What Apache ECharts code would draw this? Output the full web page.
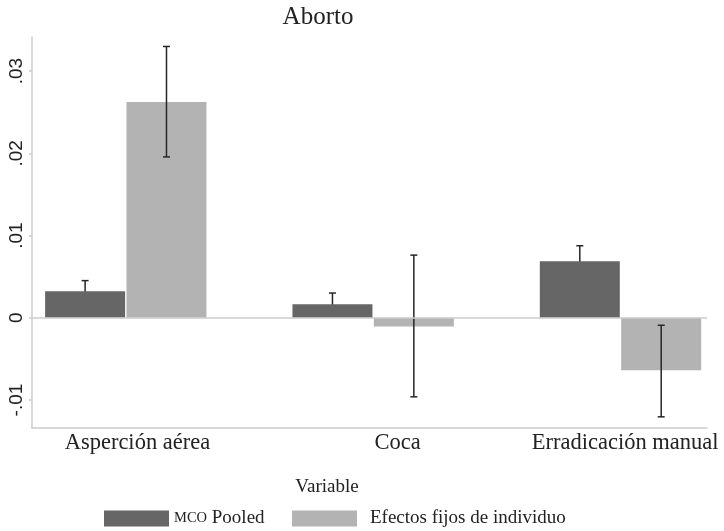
<!DOCTYPE html>
<html><head><meta charset="utf-8">
<script src="https://cdn.jsdelivr.net/npm/echarts@6/dist/echarts.min.js"></script>
<style>html,body{margin:0;padding:0;background:#fff}#c{width:724px;height:531px}</style>
</head><body><div id="c"></div>
<script>
// ---- data ----
const categories = ['Asperción aérea', 'Coca', 'Erradicación manual'];
const seriesNames = ['MCO Pooled', 'Efectos fijos de individuo'];
const mcoValues = [0.00322, 0.00164, 0.00686];
const mcoLower  = [0.00192, 0.00027, 0.00496];
const mcoUpper  = [0.00452, 0.00301, 0.00876];
const feValues  = [0.02624, -0.00107, -0.00637];
const feLower   = [0.01956, -0.00961, -0.01204];
const feUpper   = [0.03299, 0.00762, -0.00091];
const yTicks = [-0.01, 0, 0.01, 0.02, 0.03];
const yTickLabels = ['-.01', '0', '.01', '.02', '.03'];
const titleText = 'Aborto';
const legendTitle = 'Variable';

// ---- layout ----
const barOffset = 0.1645;           // half group spacing in category units
const labelShift = [0.047, 0.099, 0.019];
const serif = 'Liberation Serif';
const sans = 'Liberation Sans';

const mcoBars = categories.map((c, i) => [i - barOffset, mcoValues[i]]);
const feBars = categories.map((c, i) => [i + barOffset, feValues[i]]);
const mcoErr = categories.map((c, i) => [i - barOffset, mcoLower[i], mcoUpper[i]]);
const feErr = categories.map((c, i) => [i + barOffset, feLower[i], feUpper[i]]);

function errRender(params, api) {
  const x = api.value(0), lo = api.value(1), hi = api.value(2);
  const p1 = api.coord([x, hi]), p2 = api.coord([x, lo]);
  const cw = 3.5;
  const style = { stroke: '#262626', lineWidth: 1.5 };
  return { type: 'group', children: [
    { type: 'line', shape: { x1: p1[0], y1: p1[1], x2: p2[0], y2: p2[1] }, style },
    { type: 'line', shape: { x1: p1[0] - cw, y1: p1[1], x2: p1[0] + cw, y2: p1[1] }, style },
    { type: 'line', shape: { x1: p2[0] - cw, y1: p2[1], x2: p2[0] + cw, y2: p2[1] }, style }
  ]};
}

const chart = echarts.init(document.getElementById('c'), null, { renderer: 'canvas' });
chart.setOption({
  backgroundColor: '#ffffff',
  animation: false,
  title: [
    { text: titleText, left: 313, top: 0, textAlign: 'center',
      textStyle: { fontFamily: serif, fontSize: 25, fontWeight: 'normal', color: '#222' } },
    { text: legendTitle, left: 322, top: 473, textAlign: 'center',
      textStyle: { fontFamily: serif, fontSize: 19, fontWeight: 'normal', color: '#222' } }
  ],
  legend: [
    { data: [seriesNames[0]], left: 99, top: 504, itemWidth: 65, itemHeight: 16, icon: 'rect',
      formatter: () => '{sc|MCO} {n|Pooled}',
      textStyle: { fontFamily: serif, fontSize: 19, color: '#222', padding: [0, 0, 0, 0],
        rich: { sc: { fontFamily: serif, fontSize: 14.5, color: '#222' }, n: { fontFamily: serif, fontSize: 19, color: '#222' } } } },
    { data: [seriesNames[1]], left: 287, top: 504, itemWidth: 65, itemHeight: 16, icon: 'rect',
      textStyle: { fontFamily: serif, fontSize: 19, color: '#222', padding: [0, 0, 0, 8] } }
  ],
  grid: { left: 32, right: 17, top: 37, bottom: 103 },
  xAxis: {
    type: 'value', min: -0.3792, max: 2.3497,
    splitLine: { show: false },
    axisLine: { show: true, onZero: false, lineStyle: { color: '#cccccc', width: 1.5 } },
    axisTick: { show: false },
    axisLabel: {
      customValues: categories.map((c, i) => i + labelShift[i]),
      formatter: v => categories[Math.round(v)],
      fontFamily: serif, fontSize: 22.5, color: '#222', margin: 4
    }
  },
  yAxis: {
    type: 'value', min: -0.0134, max: 0.03414,
    splitLine: { show: false },
    axisLine: { show: true, onZero: false, lineStyle: { color: '#cccccc', width: 1.5 } },
    axisTick: { show: true, length: 3, customValues: yTicks, lineStyle: { color: '#cccccc', width: 1.5 } },
    axisLabel: {
      customValues: yTicks,
      formatter: v => yTickLabels[yTicks.findIndex(t => Math.abs(t - v) < 1e-9)],
      rotate: 90, fontFamily: sans, fontSize: 19, color: '#222', margin: 6
    }
  },
  series: [
    { name: seriesNames[0], type: 'bar', data: mcoBars, barWidth: 80, barGap: '-100%',
      itemStyle: { color: '#666666' }, z: 3,
      markLine: { silent: true, symbol: 'none', label: { show: false },
        lineStyle: { color: '#cccccc', width: 1.5, type: 'solid' }, data: [{ yAxis: 0 }] } },
    { name: seriesNames[1], type: 'bar', data: feBars, barWidth: 80, barGap: '-100%',
      itemStyle: { color: '#b3b3b3' }, z: 3 },
    { name: 'mcoErr', type: 'custom', renderItem: errRender, data: mcoErr, z: 2, silent: true },
    { name: 'feErr', type: 'custom', renderItem: errRender, data: feErr, z: 4, silent: true }
  ]
});
</script>
</body></html>
